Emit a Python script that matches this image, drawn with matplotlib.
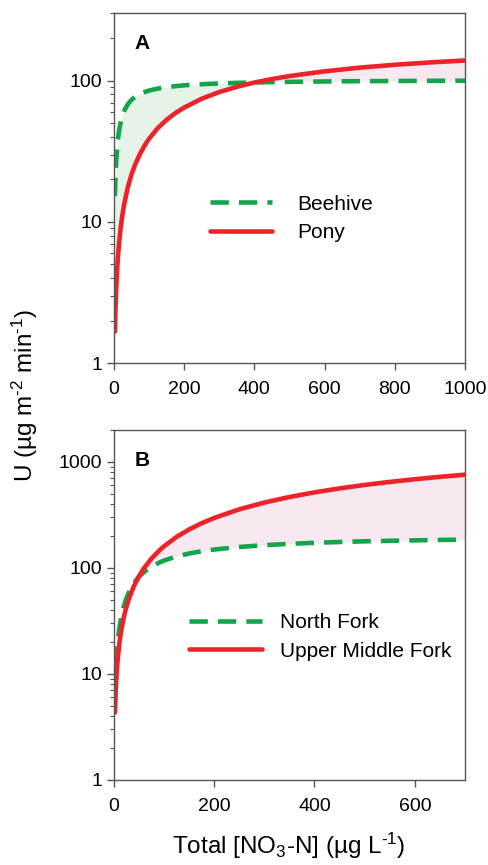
import numpy as np
import matplotlib
matplotlib.use("Agg")
import matplotlib.pyplot as plt

plt.rcParams['font.family'] = ['Liberation Sans', 'DejaVu Sans']
plt.rcParams['mathtext.fontset'] = 'custom'
plt.rcParams['mathtext.rm'] = 'Liberation Sans'
plt.rcParams['mathtext.it'] = 'Liberation Sans:italic'
plt.rcParams['mathtext.default'] = 'regular'

# panel A: Beehive vs Pony
xa = [3.5, 4, 5, 6, 7, 8, 10, 12, 15, 20, 25, 30, 40, 50, 60, 75, 90, 100,
      125, 150, 175, 200, 250, 300, 350, 400, 450, 500, 600, 700, 800, 900,
      1000]
beehive = [15.2, 17.0, 20.4, 23.5, 26.4, 29.1, 34.0, 38.3, 43.7, 51.0, 56.7,
           61.2, 68.0, 72.9, 76.5, 80.5, 83.5, 85.0, 87.9, 90.0, 91.5, 92.7,
           94.4, 95.6, 96.5, 97.1, 97.7, 98.1, 98.7, 99.2, 99.5, 99.8, 100.0]
pony = [1.67, 1.90, 2.37, 2.84, 3.31, 3.77, 4.69, 5.60, 6.95, 9.16, 11.3,
        13.4, 17.5, 21.4, 25.1, 30.4, 35.4, 38.6, 46.0, 52.7, 58.8, 64.4,
        74.4, 83.0, 90.4, 97.0, 102.7, 107.8, 116.5, 123.7, 129.6, 134.7,
        139.0]

# panel B: North Fork vs Upper Middle Fork
xb = [2.5, 3, 4, 5, 6, 7, 8, 10, 12, 15, 20, 25, 30, 40, 50, 60, 75, 90, 100,
      125, 150, 175, 200, 250, 300, 350, 400, 450, 500, 550, 600, 650, 700]
north_fork = [6.6, 7.9, 10.4, 12.8, 15.2, 17.5, 19.8, 24.2, 28.3, 34.2, 43.2,
              51.3, 58.6, 71.4, 82.1, 91.2, 102.5, 111.8, 117.2, 128.1, 136.7,
              143.5, 149.1, 157.6, 163.9, 168.7, 172.5, 175.6, 178.2, 180.3,
              182.1, 183.7, 185.0]
upper_middle = [4.33, 5.19, 6.91, 8.63, 10.4, 12.1, 13.8, 17.2, 20.6, 25.7,
                34.1, 42.4, 50.7, 67.0, 83.1, 98.9, 122.2, 144.8, 159.7, 195.7,
                230.4, 263.7, 295.9, 356.8, 413.5, 466.5, 516.1, 562.6, 606.4,
                647.6, 686.4, 723.1, 757.8]

green = '#12a54a'
red = '#ee2229'
green_fill = '#e6f3e8'
pink_fill = '#f8e8f2'
spine_col = '#555555'

fig = plt.figure(figsize=(4.89, 8.65), dpi=100)
axA = fig.add_axes([0.2325, 0.5803, 0.7185, 0.4043])
axB = fig.add_axes([0.2325, 0.0983, 0.7185, 0.4046])


def draw(ax, x, g, r, gname, rname):
    x = np.array(x)
    g = np.array(g)
    r = np.array(r)
    ax.fill_between(x, g, r, where=g >= r, interpolate=True,
                    color=green_fill, lw=0)
    ax.fill_between(x, g, r, where=r >= g, interpolate=True,
                    color=pink_fill, lw=0)
    ax.plot(x, g, color=green, lw=3.3, dashes=(4.0, 2.2), label=gname)
    ax.plot(x, r, color=red, lw=3.3, solid_capstyle='round', label=rname)
    ax.set_yscale('log')
    for s in ax.spines.values():
        s.set_color(spine_col)
        s.set_linewidth(1.0)
    ax.tick_params(axis='both', which='major', direction='out', length=5,
                   width=1, color=spine_col, labelsize=14)
    ax.tick_params(axis='y', which='minor', direction='out', length=3,
                   width=0.8, color=spine_col)
    ax.tick_params(axis='x', pad=8)
    ax.yaxis.set_major_formatter(matplotlib.ticker.FuncFormatter(
        lambda v, p: '%d' % v))
    ax.yaxis.set_minor_formatter(matplotlib.ticker.NullFormatter())


draw(axA, xa, beehive, pony, 'Beehive', 'Pony')
axA.set_xlim(0, 1000)
axA.set_ylim(1, 300)
axA.set_xticks([0, 200, 400, 600, 800, 1000])
axA.set_yticks([1, 10, 100])
axA.text(0.06, 0.94, 'A', transform=axA.transAxes, fontsize=15,
         fontweight='bold', va='top')
axA.legend(loc='upper left', bbox_to_anchor=(0.22, 0.535), frameon=False,
           fontsize=15, handlelength=3.0, handletextpad=1.2,
           labelspacing=0.45)

draw(axB, xb, north_fork, upper_middle, 'North Fork', 'Upper Middle Fork')
axB.set_xlim(0, 700)
axB.set_ylim(1, 2000)
axB.set_xticks([0, 200, 400, 600])
axB.set_yticks([1, 10, 100, 1000])
axB.text(0.06, 0.94, 'B', transform=axB.transAxes, fontsize=15,
         fontweight='bold', va='top')
axB.legend(loc='upper left', bbox_to_anchor=(0.16, 0.53), frameon=False,
           fontsize=15, handlelength=3.5, handletextpad=0.9,
           labelspacing=0.45)

fig.text(0.05, 0.543, r'U (µg m$^{\text{-2}}$ min$^{\text{-1}}$)',
         rotation=90, ha='center', va='center', fontsize=17.5)
fig.text(0.591, 0.022, r'Total [NO$_3$-N] (µg L$^{\text{-1}}$)',
         ha='center', va='center', fontsize=17.5)

fig.savefig('out.png', dpi=100)
